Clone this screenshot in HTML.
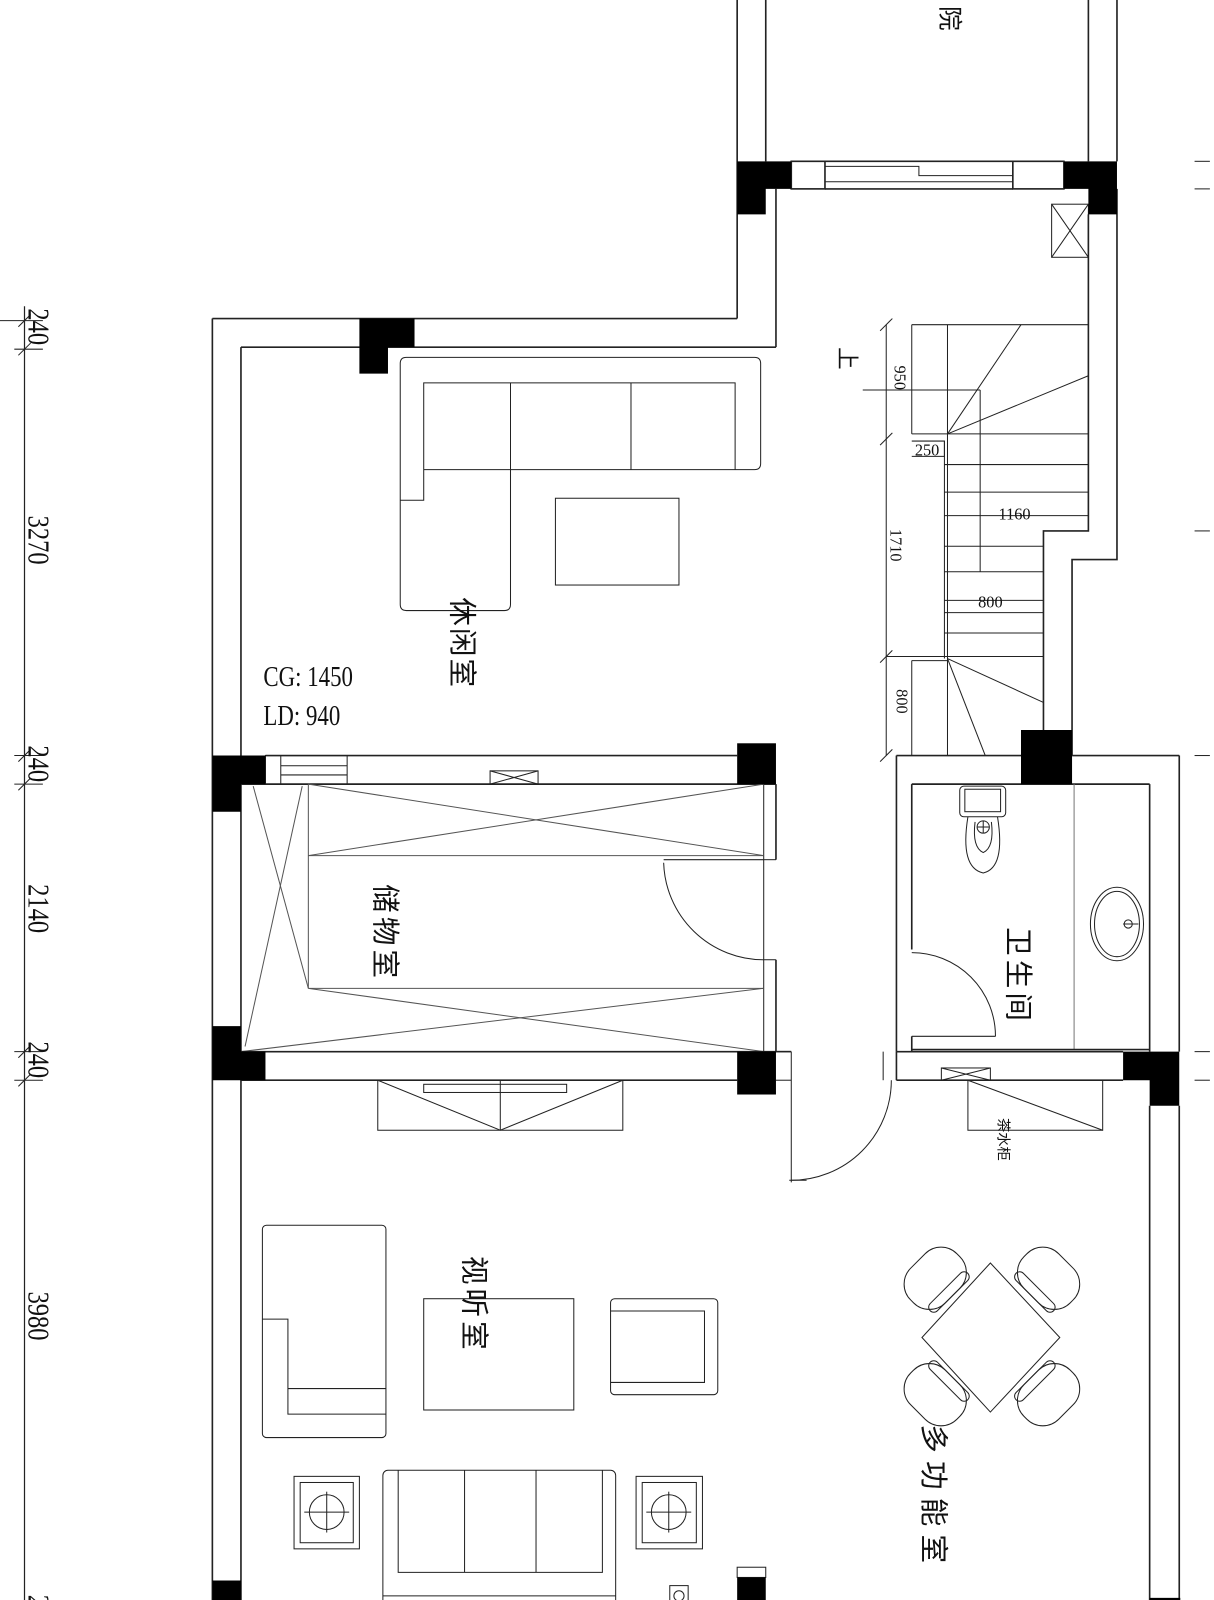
<!DOCTYPE html>
<html><head><meta charset="utf-8"><style>
html,body{margin:0;padding:0;background:#fff;}
svg{display:block;}
text{font-family:"Liberation Serif","Noto Serif CJK SC",serif;fill:#111;}
.cn{font-family:"Liberation Sans","Noto Sans CJK SC",sans-serif;}
</style></head><body>
<svg width="1214" height="1600" viewBox="0 0 1214 1600" xmlns="http://www.w3.org/2000/svg">
<g transform="scale(1.021)">
<g stroke="#222" stroke-width="1.6" fill="none">
<line x1="24" y1="300" x2="24" y2="1600" stroke-width="1.2"/>
<g stroke-width="1">
<line x1="0" y1="314" x2="42" y2="314"/><line x1="14" y1="342" x2="42" y2="342"/>
<line x1="14" y1="740" x2="42" y2="740"/><line x1="14" y1="768" x2="42" y2="768"/>
<line x1="14" y1="1030" x2="42" y2="1030"/><line x1="14" y1="1058" x2="42" y2="1058"/>
<line x1="14" y1="1570" x2="42" y2="1570"/>
<line x1="18" y1="320" x2="30" y2="308"/><line x1="18" y1="348" x2="30" y2="336"/>
<line x1="18" y1="746" x2="30" y2="734"/><line x1="18" y1="774" x2="30" y2="762"/>
<line x1="18" y1="1036" x2="30" y2="1024"/><line x1="18" y1="1064" x2="30" y2="1052"/>
<line x1="1170" y1="158" x2="1185" y2="158"/><line x1="1170" y1="185" x2="1185" y2="185"/>
<line x1="1170" y1="520" x2="1185" y2="520"/><line x1="1170" y1="740" x2="1185" y2="740"/>
<line x1="1170" y1="1030" x2="1185" y2="1030"/><line x1="1170" y1="1058" x2="1185" y2="1058"/>
</g>

<line x1="722" y1="0" x2="722" y2="312"/>
<line x1="750" y1="0" x2="750" y2="158"/>
<line x1="1066" y1="0" x2="1066" y2="158"/>
<line x1="1094" y1="0" x2="1094" y2="158"/>
<rect x="775" y="158" width="33" height="27"/>
<rect x="992" y="158" width="50" height="27"/>
<line x1="808" y1="158" x2="992" y2="158"/><line x1="808" y1="185" x2="992" y2="185"/>
<polyline points="808,163 900,163 900,172 992,172" stroke-width="1"/>
<line x1="808" y1="178" x2="992" y2="178" stroke-width="1"/>
<line x1="760" y1="185" x2="760" y2="340"/>
<line x1="208" y1="312" x2="722" y2="312"/>
<line x1="236" y1="340" x2="760" y2="340"/>
<line x1="208" y1="312" x2="208" y2="1600"/>
<line x1="236" y1="340" x2="236" y2="1600"/>
<polyline points="1094,185 1094,548 1050,548 1050,740"/>
<polyline points="1066,210 1066,520 1022,520 1022,740"/>
<rect x="1030" y="200" width="36" height="52" stroke-width="1"/>
<line x1="1030" y1="200" x2="1066" y2="252" stroke-width="1"/><line x1="1066" y1="200" x2="1030" y2="252" stroke-width="1"/>

<g stroke-width="1">
<line x1="893" y1="318" x2="1066" y2="318"/>
<line x1="893" y1="318" x2="893" y2="425"/>
<line x1="928" y1="318" x2="928" y2="740"/>
<line x1="928" y1="425" x2="1000" y2="318"/>
<line x1="928" y1="425" x2="1066" y2="368"/>
<line x1="893" y1="425" x2="1066" y2="425"/>
<line x1="925" y1="455" x2="1066" y2="455"/>
<line x1="925" y1="482" x2="1066" y2="482"/>
<line x1="925" y1="505" x2="1066" y2="505"/>
<line x1="925" y1="535" x2="1022" y2="535"/>
<line x1="925" y1="560" x2="1022" y2="560"/>
<line x1="925" y1="588" x2="1022" y2="588"/>
<line x1="925" y1="600" x2="1022" y2="600"/>
<line x1="925" y1="620" x2="1022" y2="620"/>
<line x1="868" y1="643" x2="1022" y2="643"/>
<line x1="893" y1="647" x2="928" y2="647"/>
<line x1="893" y1="647" x2="893" y2="740"/>
<line x1="928" y1="645" x2="1022" y2="688"/>
<line x1="928" y1="645" x2="965" y2="740"/>
<line x1="925" y1="432" x2="925" y2="645"/>
<polyline points="893,432 925,432 925,447 893,447"/>
<line x1="868" y1="318" x2="868" y2="740"/>
<line x1="862" y1="324" x2="874" y2="312"/><line x1="862" y1="436" x2="874" y2="424"/>
<line x1="862" y1="649" x2="874" y2="637"/><line x1="862" y1="746" x2="874" y2="734"/>
<line x1="845" y1="382" x2="960" y2="382"/>
<line x1="960" y1="382" x2="960" y2="560"/>
</g>

<g stroke-width="1">
<path d="M398,350 H739 Q745,350 745,356 V454 Q745,460 739,460 H500 V592 Q500,598 494,598 H398 Q392,598 392,592 V356 Q392,350 398,350 Z"/>
<polyline points="392,490 415,490 415,375 720,375 720,460"/>
<line x1="500" y1="375" x2="500" y2="460"/>
<line x1="618" y1="375" x2="618" y2="460"/>
<line x1="415" y1="460" x2="500" y2="460"/>
<rect x="544" y="488" width="121" height="85"/>
</g>

<line x1="260" y1="740" x2="722" y2="740"/>
<line x1="236" y1="768" x2="760" y2="768"/>
<rect x="260" y="740" width="80" height="28" stroke-width="1"/>
<line x1="275" y1="740" x2="275" y2="768" stroke-width="1"/>
<line x1="275" y1="750" x2="340" y2="750" stroke-width="1"/><line x1="275" y1="759" x2="340" y2="759" stroke-width="1"/>
<rect x="480" y="755" width="47" height="13" stroke-width="1"/>
<line x1="480" y1="755" x2="527" y2="768" stroke-width="1"/><line x1="527" y1="755" x2="480" y2="768" stroke-width="1"/>
<line x1="748" y1="768" x2="748" y2="1030" stroke-width="1"/>
<line x1="760" y1="768" x2="760" y2="842"/><line x1="760" y1="940" x2="760" y2="1030"/>
<line x1="748" y1="842" x2="760" y2="842" stroke-width="1"/><line x1="748" y1="940" x2="760" y2="940" stroke-width="1"/>
<g stroke-width="1" stroke="#555">
<line x1="302" y1="768" x2="302" y2="968"/>
<line x1="302" y1="838" x2="748" y2="838"/>
<line x1="302" y1="968" x2="748" y2="968"/>
<line x1="302" y1="768" x2="748" y2="838"/><line x1="748" y1="768" x2="302" y2="838"/>
<line x1="302" y1="968" x2="748" y2="1030"/><line x1="748" y1="968" x2="236" y2="1030"/>
<line x1="248" y1="770" x2="302" y2="968"/><line x1="296" y1="770" x2="240" y2="1025"/>
</g>
<path d="M650,845 A98,98 0 0 0 748,940" stroke-width="1"/>
<line x1="650" y1="842" x2="748" y2="842" stroke-width="1"/>
<line x1="236" y1="1030" x2="760" y2="1030"/>
<line x1="236" y1="1058" x2="722" y2="1058"/>

<line x1="775" y1="1030" x2="775" y2="1158" stroke-width="1"/>
<line x1="760" y1="1030" x2="775" y2="1030"/>
<path d="M873,1058 A98,98 0 0 1 775,1156" stroke-width="1"/>
<line x1="773" y1="1156" x2="790" y2="1156" stroke-width="1"/>
<line x1="865" y1="1030" x2="865" y2="1058" stroke-width="1"/>
<line x1="878" y1="1030" x2="878" y2="1058"/>
<line x1="760" y1="1058" x2="775" y2="1058" stroke-width="1"/>

<line x1="878" y1="740" x2="1000" y2="740"/>
<line x1="1050" y1="740" x2="1155" y2="740"/>
<line x1="893" y1="768" x2="1126" y2="768"/>
<line x1="878" y1="740" x2="878" y2="1030"/>
<line x1="893" y1="768" x2="893" y2="930"/>
<line x1="893" y1="1015" x2="893" y2="1030"/>
<line x1="1155" y1="740" x2="1155" y2="1030"/>
<line x1="1126" y1="768" x2="1126" y2="1030"/>
<line x1="1052" y1="768" x2="1052" y2="1028" stroke-width="1" stroke="#777"/>
<line x1="893" y1="1028" x2="1126" y2="1028"/>
<line x1="878" y1="1030" x2="1100" y2="1030"/>
<line x1="893" y1="1015" x2="975" y2="1015" stroke-width="1"/>
<path d="M893,933 A82,82 0 0 1 975,1015" stroke-width="1"/>
<g stroke-width="1">
<rect x="940" y="770" width="45" height="30" rx="4"/>
<rect x="945" y="773" width="35" height="22"/>
<path d="M948,800 Q940,850 963,855 Q985,850 977,800"/>
<circle cx="963" cy="810" r="6"/><line x1="957" y1="810" x2="969" y2="810"/><line x1="963" y1="804" x2="963" y2="816"/>
<path d="M955,805 Q952,830 963,835 Q974,830 971,805"/>
<ellipse cx="1094" cy="905" rx="26" ry="36"/>
<ellipse cx="1094" cy="905" rx="22" ry="32"/>
<circle cx="1105" cy="905" r="4"/><line x1="1100" y1="905" x2="1115" y2="905"/>
</g>

<line x1="878" y1="1058" x2="1100" y2="1058"/>
<line x1="1155" y1="1083" x2="1155" y2="1600"/>
<line x1="1126" y1="1083" x2="1126" y2="1600"/>
<rect x="922" y="1046" width="48" height="12" stroke-width="1"/>
<line x1="922" y1="1046" x2="970" y2="1058" stroke-width="1"/><line x1="970" y1="1046" x2="922" y2="1058" stroke-width="1"/>
<rect x="948" y="1058" width="132" height="49" stroke-width="1"/>
<line x1="948" y1="1058" x2="1080" y2="1107" stroke-width="1"/>
<g stroke-width="1">
<polygon points="970,1237 1038,1310 970,1383 903,1310"/>
<g transform="translate(916,1252) rotate(-45)"><rect x="-32" y="-24" width="64" height="48" rx="22"/><rect x="-26" y="14" width="52" height="10" rx="5"/></g>
<g transform="translate(1027,1252) rotate(45)"><rect x="-32" y="-24" width="64" height="48" rx="22"/><rect x="-26" y="14" width="52" height="10" rx="5"/></g>
<g transform="translate(916,1366) rotate(-135)"><rect x="-32" y="-24" width="64" height="48" rx="22"/><rect x="-26" y="14" width="52" height="10" rx="5"/></g>
<g transform="translate(1027,1366) rotate(135)"><rect x="-32" y="-24" width="64" height="48" rx="22"/><rect x="-26" y="14" width="52" height="10" rx="5"/></g>
</g>

<g stroke-width="1">
<rect x="370" y="1058" width="240" height="49"/>
<line x1="490" y1="1058" x2="490" y2="1107"/>
<polyline points="370,1058 490,1107 610,1058"/>
<rect x="415" y="1062" width="140" height="8"/>
<rect x="257" y="1200" width="121" height="208" rx="4"/>
<polyline points="257,1292 282,1292 282,1385 378,1385"/>
<line x1="282" y1="1360" x2="378" y2="1360"/>
<rect x="415" y="1272" width="147" height="109"/>
<rect x="598" y="1272" width="105" height="94" rx="4"/>
<polyline points="598,1284 690,1284 690,1354 598,1354"/>
<rect x="375" y="1440" width="228" height="140" rx="5"/>
<polyline points="390,1440 390,1540 590,1540 590,1440"/>
<line x1="455" y1="1440" x2="455" y2="1540"/><line x1="525" y1="1440" x2="525" y2="1540"/>
<line x1="375" y1="1563" x2="603" y2="1563"/>
<rect x="288" y="1446" width="64" height="71"/><rect x="294" y="1452" width="52" height="59"/>
<circle cx="320" cy="1481" r="17"/><line x1="298" y1="1481" x2="342" y2="1481"/><line x1="320" y1="1461" x2="320" y2="1501"/>
<rect x="623" y="1446" width="65" height="71"/><rect x="629" y="1452" width="53" height="59"/>
<circle cx="655" cy="1481" r="17"/><line x1="633" y1="1481" x2="677" y2="1481"/><line x1="655" y1="1461" x2="655" y2="1501"/>
<rect x="656" y="1553" width="18" height="20"/><circle cx="665" cy="1563" r="5"/>
</g>
<line x1="236" y1="1575" x2="722" y2="1575"/>
<rect x="722" y="1535" width="28" height="10" stroke-width="1"/>
<line x1="750" y1="1575" x2="815" y2="1575"/>
<line x1="815" y1="1575" x2="815" y2="1600"/>
</g>

<g fill="#000">
<path d="M722,158 H775 V185 H750 V210 H722 Z"/>
<path d="M1042,158 H1094 V210 H1066 V185 H1042 Z"/>
<path d="M352,312 H406 V340 H380 V366 H352 Z"/>
<path d="M208,740 H260 V768 H236 V795 H208 Z"/>
<rect x="722" y="728" width="38" height="40"/>
<path d="M208,1005 H236 V1030 H260 V1058 H208 Z"/>
<rect x="722" y="1030" width="38" height="42"/>
<path d="M1000,715 H1050 V768 H1000 Z"/>
<path d="M1100,1030 H1155 V1083 H1126 V1058 H1100 Z"/>
<rect x="208" y="1548" width="28" height="52"/>
<rect x="722" y="1545" width="28" height="55"/>
<rect x="750" y="1575" width="12" height="25"/>
<rect x="1126" y="1565" width="30" height="35"/>
</g>

<g font-size="30">
<text transform="translate(28,302) rotate(90) scale(0.8,1)">240</text>
<text transform="translate(28,505) rotate(90) scale(0.8,1)">3270</text>
<text transform="translate(28,730) rotate(90) scale(0.8,1)">240</text>
<text transform="translate(28,866) rotate(90) scale(0.8,1)">2140</text>
<text transform="translate(28,1020) rotate(90) scale(0.8,1)">240</text>
<text transform="translate(28,1265) rotate(90) scale(0.8,1)">3980</text>
<text transform="translate(28,1562) rotate(90) scale(0.8,1)">24</text>
</g>
<g font-size="16">
<text transform="translate(876,358) rotate(90)">950</text>
<text transform="translate(872,518) rotate(90)">1710</text>
<text transform="translate(878,675) rotate(90)">800</text>
<text x="896" y="446">250</text>
<text x="978" y="509">1160</text>
<text x="958" y="595">800</text>
</g>
<text font-size="28" transform="translate(258,672) scale(0.8,1)">CG: 1450</text>
<text font-size="28" transform="translate(258,710) scale(0.8,1)">LD: 940</text>

<g class="cn" font-size="28">
<text class="cn" transform="translate(922,6) rotate(90)" font-size="24">院</text>
<text class="cn" transform="translate(822,340) rotate(90)" font-size="22">上</text>
<text class="cn" transform="translate(443,585) rotate(90)" letter-spacing="2">休闲室</text>
<text class="cn" transform="translate(368,866) rotate(90)" letter-spacing="4">储物室</text>
<text class="cn" transform="translate(988,908) rotate(90)" letter-spacing="4">卫生间</text>
<text class="cn" transform="translate(455,1230) rotate(90)" letter-spacing="4">视听室</text>
<text class="cn" transform="translate(905,1395) rotate(90)" letter-spacing="8">多功能室</text>
<text class="cn" transform="translate(978,1095) rotate(90)" font-size="14">茶水柜</text>
</g>
</g>
</svg>
</body></html>
